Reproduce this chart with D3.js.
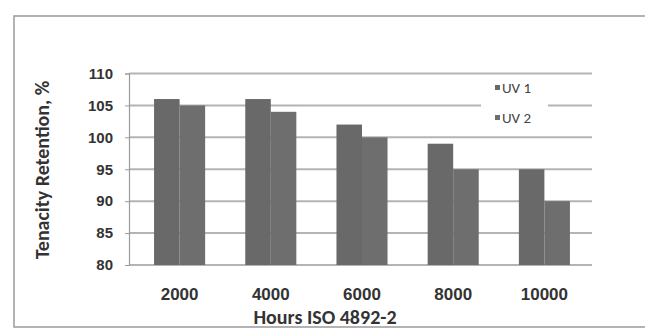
<!DOCTYPE html>
<html>
<head>
<meta charset="utf-8">
<script src="https://cdn.jsdelivr.net/npm/d3@7/dist/d3.min.js"></script>
<style>
  html, body { margin: 0; padding: 0; background: #ffffff; }
  svg { display: block; font-family: Carlito, "Liberation Sans", "DejaVu Sans", sans-serif; }
</style>
</head>
<body>
<svg id="chart" width="645" height="329"></svg>
<script>
// Exposure hours (category axis)
const hours = ["2000", "4000", "6000", "8000", "10000"];
// Tenacity retention (%) for each UV sample
const uv1 = [106, 106, 102, 99, 95];
const uv2 = [105, 104, 100, 95, 90];
const seriesNames = ["UV 1", "UV 2"];
const yTicks = [80, 85, 90, 95, 100, 105, 110];

const series = [
  { name: seriesNames[0], values: uv1, color: "#696969" },
  { name: seriesNames[1], values: uv2, color: "#6e6e6e" }
];

const svg = d3.select("#chart");
const W = 645;

// outer chart frame
svg.append("rect")
  .attr("x", 14).attr("y", 16)
  .attr("width", W + 20).attr("height", 311)
  .attr("fill", "#ffffff")
  .attr("stroke", "#a0a0a0").attr("stroke-width", 1.6);

const plot = { left: 129, right: 592, top: 73.5, bottom: 265 };

const x = d3.scaleBand()
  .domain(hours)
  .range([plot.left + 5, plot.right - 2])
  .paddingInner(0.44)
  .paddingOuter(0.22);

const x1 = d3.scaleBand()
  .domain(seriesNames)
  .range([0, x.bandwidth()]);

const y = d3.scaleLinear()
  .domain([80, 110])
  .range([plot.bottom, plot.top]);

// horizontal gridlines
svg.append("g")
  .selectAll("line")
  .data(yTicks)
  .join("line")
  .attr("x1", plot.left).attr("x2", plot.right)
  .attr("y1", d => y(d)).attr("y2", d => y(d))
  .attr("stroke", "#b4b4b4").attr("stroke-width", 2);

// y axis
const yAxis = svg.append("g")
  .attr("transform", `translate(${plot.left},0)`)
  .call(d3.axisLeft(y).tickValues(yTicks).tickSize(4).tickPadding(12));
yAxis.select(".domain").attr("stroke", "#9a9a9a").attr("stroke-width", 1.2);
yAxis.selectAll(".tick line").attr("stroke", "#9a9a9a");
yAxis.selectAll("text")
  .attr("fill", "#333").attr("font-size", 15).attr("font-weight", "bold");

// bars
const groups = svg.append("g")
  .selectAll("g")
  .data(series)
  .join("g")
  .attr("fill", d => d.color);

groups.selectAll("rect")
  .data(s => s.values.map((v, i) => ({ name: s.name, hour: hours[i], v })))
  .join("rect")
  .attr("x", d => x(d.hour) + x1(d.name))
  .attr("width", x1.bandwidth())
  .attr("y", d => y(d.v))
  .attr("height", d => y(80) - y(d.v));

// x axis labels
const xAxis = svg.append("g")
  .attr("transform", `translate(0,${plot.bottom})`)
  .call(d3.axisBottom(x).tickSize(0).tickPadding(23));
xAxis.select(".domain").remove();
xAxis.selectAll("text")
  .attr("fill", "#333").attr("font-size", 17).attr("font-weight", "bold");

// axis titles
svg.append("text")
  .attr("x", 325)
  .attr("y", 324)
  .attr("text-anchor", "middle")
  .attr("fill", "#333").attr("font-size", 20).attr("font-weight", "bold")
  .text("Hours ISO 4892-2");

svg.append("text")
  .attr("transform", `translate(49,170) rotate(-90)`)
  .attr("text-anchor", "middle")
  .attr("fill", "#333").attr("font-size", 20).attr("font-weight", "bold")
  .text("Tenacity Retention, %");

// legend
const legend = svg.append("g");
legend.append("rect")
  .attr("x", 481).attr("y", 77).attr("width", 67).attr("height", 56)
  .attr("fill", "#ffffff");
const item = legend.selectAll("g")
  .data(series)
  .join("g")
  .attr("transform", (d, i) => `translate(495,${88 + i * 30})`);
item.append("rect")
  .attr("x", 0).attr("y", -3).attr("width", 5).attr("height", 5)
  .attr("fill", d => d.color);
item.append("text")
  .attr("x", 7).attr("y", 0)
  .attr("dy", "0.35em")
  .attr("fill", "#444").attr("font-size", 15)
  .text(d => d.name);
</script>
</body>
</html>
